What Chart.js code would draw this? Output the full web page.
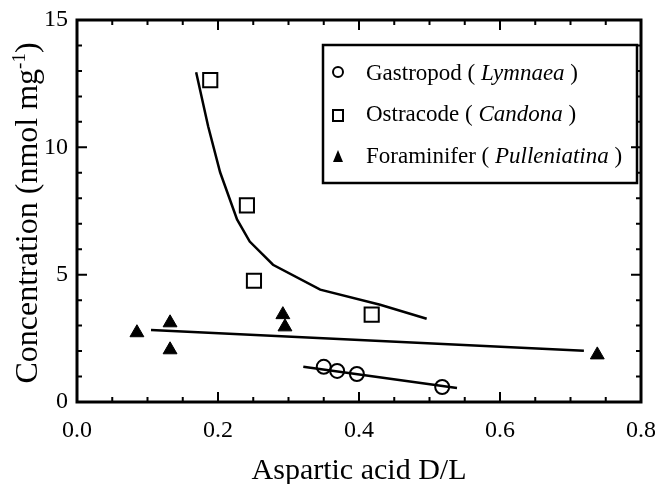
<!DOCTYPE html>
<html>
<head>
<meta charset="utf-8">
<script src="https://cdn.jsdelivr.net/npm/chart.js@4.4.1/dist/chart.umd.min.js"></script>
<style>
  html, body { margin: 0; padding: 0; background: #fff; }
  #wrap { width: 655px; height: 484px; }
</style>
</head>
<body>
<div id="wrap"><canvas id="chart" width="655" height="484"></canvas></div>
<script>
// measured points
const gastropodX = [0.350, 0.369, 0.397, 0.518];
const gastropodY = [1.38, 1.22, 1.10, 0.59];
const ostracodeX = [0.189, 0.241, 0.251, 0.418];
const ostracodeY = [12.64, 7.72, 4.76, 3.43];
const foramX = [0.085, 0.132, 0.132, 0.292, 0.295, 0.738];
const foramY = [2.72, 3.11, 2.05, 3.43, 2.95, 1.85];

// fitted curves
const gastropodFitX = [0.321, 0.539];
const gastropodFitY = [1.38, 0.55];
const ostracodeFitX = [0.169, 0.186, 0.203, 0.227, 0.245, 0.278, 0.345, 0.430, 0.496];
const ostracodeFitY = [12.95, 10.83, 9.02, 7.17, 6.30, 5.39, 4.41, 3.82, 3.27];
const foramFitX = [0.105, 0.719];
const foramFitY = [2.83, 2.01];

const xTicks = [0.0, 0.2, 0.4, 0.6, 0.8];
const yTicks = [0, 5, 10, 15];

const legendItems = [
    { marker: 'circle', parts: [['Gastropod ( ', false], ['Lymnaea', true], [' )', false]] },
    { marker: 'rect', parts: [['Ostracode ( ', false], ['Candona', true], [' )', false]] },
    { marker: 'triangle', parts: [['Foraminifer ( ', false], ['Pulleniatina', true], [' )', false]] },
];

const serif = '"Liberation Serif", "DejaVu Serif", serif';

function toPoints(xs, ys) {
    return xs.map((x, i) => ({ x, y: ys[i] }));
}

const framePlugin = {
    id: 'frame',
    afterDraw(chart) {
        const { ctx, chartArea: a, scales } = chart;
        const xs = scales.x;
        const ys = scales.y;
        ctx.save();
        ctx.strokeStyle = '#000';
        ctx.fillStyle = '#000';
        ctx.lineWidth = 3;
        ctx.strokeRect(a.left, a.top, a.right - a.left, a.bottom - a.top);

        // inward ticks on all four sides
        ctx.lineWidth = 2;
        ctx.beginPath();
        for (let i = 0; i <= 16; i++) {
            const px = xs.getPixelForValue(i * 0.05);
            const len = i % 4 === 0 ? 10 : 5;
            ctx.moveTo(px, a.bottom); ctx.lineTo(px, a.bottom - len);
            ctx.moveTo(px, a.top); ctx.lineTo(px, a.top + len);
        }
        for (let v = 0; v <= 15; v++) {
            const py = ys.getPixelForValue(v);
            const len = v % 5 === 0 ? 10 : 5;
            ctx.moveTo(a.left, py); ctx.lineTo(a.left + len, py);
            ctx.moveTo(a.right, py); ctx.lineTo(a.right - len, py);
        }
        ctx.stroke();

        // axis titles
        ctx.font = '30px ' + serif;
        ctx.textAlign = 'center';
        ctx.textBaseline = 'alphabetic';
        ctx.fillText('Aspartic acid D/L', 359, 479);

        ctx.save();
        ctx.translate(37, 213);
        ctx.rotate(-Math.PI / 2);
        const main = 'Concentration (nmol mg';
        const sup = '-1';
        const close = ')';
        ctx.font = '32px ' + serif;
        const w1 = ctx.measureText(main).width;
        const w3 = ctx.measureText(close).width;
        ctx.font = '19px ' + serif;
        const w2 = ctx.measureText(sup).width;
        const x0 = -(w1 + w2 + w3) / 2;
        ctx.textAlign = 'left';
        ctx.font = '32px ' + serif;
        ctx.fillText(main, x0, 0);
        ctx.font = '19px ' + serif;
        ctx.fillText(sup, x0 + w1, -12);
        ctx.font = '32px ' + serif;
        ctx.fillText(close, x0 + w1 + w2, 0);
        ctx.restore();

        // legend box
        ctx.lineWidth = 2.5;
        ctx.strokeRect(323, 45, 314, 138);
        const rowY = [74, 115, 157];
        ctx.textAlign = 'left';
        ctx.textBaseline = 'middle';
        legendItems.forEach((item, i) => {
            const y = rowY[i];
            const mx = 338;
            ctx.lineWidth = 2;
            ctx.beginPath();
            if (item.marker === 'circle') {
                ctx.arc(mx, y - 2, 5, 0, Math.PI * 2);
                ctx.stroke();
            } else if (item.marker === 'rect') {
                ctx.strokeRect(mx - 5, y - 5, 10, 11);
            } else {
                ctx.moveTo(mx, y - 7); ctx.lineTo(mx + 5, y + 5); ctx.lineTo(mx - 5, y + 5);
                ctx.closePath();
                ctx.fill();
            }
            let tx = 366;
            item.parts.forEach(([txt, it]) => {
                ctx.font = (it ? 'italic ' : '') + '23px ' + serif;
                ctx.fillText(txt, tx, y);
                tx += ctx.measureText(txt).width;
            });
        });
        ctx.restore();
    },
};

new Chart(document.getElementById('chart'), {
    type: 'scatter',
    data: {
        datasets: [
            {
                label: 'Gastropod fit', type: 'line', data: toPoints(gastropodFitX, gastropodFitY),
                borderColor: '#000', borderWidth: 2.5, pointRadius: 0, tension: 0, fill: false,
            },
            {
                label: 'Ostracode fit', type: 'line', data: toPoints(ostracodeFitX, ostracodeFitY),
                borderColor: '#000', borderWidth: 2.5, pointRadius: 0, tension: 0, fill: false,
            },
            {
                label: 'Foraminifer fit', type: 'line', data: toPoints(foramFitX, foramFitY),
                borderColor: '#000', borderWidth: 2.5, pointRadius: 0, tension: 0, fill: false,
            },
            {
                label: 'Gastropod', data: toPoints(gastropodX, gastropodY), showLine: false,
                pointStyle: 'circle', pointRadius: 7, pointBorderWidth: 2, borderColor: '#000',
                pointBorderColor: '#000', backgroundColor: 'rgba(0,0,0,0)', pointBackgroundColor: 'rgba(0,0,0,0)',
            },
            {
                label: 'Ostracode', data: toPoints(ostracodeX, ostracodeY), showLine: false,
                pointStyle: 'rect', pointRadius: 10, pointBorderWidth: 2, borderColor: '#000',
                pointBorderColor: '#000', backgroundColor: '#fff', pointBackgroundColor: '#fff',
            },
            {
                label: 'Foraminifer', data: toPoints(foramX, foramY), showLine: false,
                pointStyle: 'triangle', pointRadius: 8, pointBorderWidth: 1, borderColor: '#000',
                pointBorderColor: '#000', backgroundColor: '#000', pointBackgroundColor: '#000',
            },
        ],
    },
    options: {
        responsive: false,
        animation: false,
        layout: { autoPadding: false, padding: { left: 0, right: 14, top: 20, bottom: 0 } },
        plugins: { legend: { display: false }, tooltip: { enabled: false } },
        scales: {
            x: {
                type: 'linear', min: 0, max: 0.8,
                afterBuildTicks: (s) => { s.ticks = xTicks.map((v) => ({ value: v })); },
                afterFit: (s) => { s.height = 82; s.paddingLeft = 0; s.paddingRight = 0; },
                grid: { display: false, drawTicks: false },
                border: { display: false },
                ticks: {
                    color: '#000', padding: 14, maxRotation: 0,
                    font: { family: serif, size: 24 },
                    callback: (v) => Number(v).toFixed(1),
                },
            },
            y: {
                type: 'linear', min: 0, max: 15,
                afterBuildTicks: (s) => { s.ticks = yTicks.map((v) => ({ value: v })); },
                afterFit: (s) => { s.width = 77; s.paddingTop = 0; s.paddingBottom = 0; },
                grid: { display: false, drawTicks: false },
                border: { display: false },
                ticks: {
                    color: '#000', padding: 9,
                    font: { family: serif, size: 24 },
                    callback: (v) => String(v),
                },
            },
        },
    },
    plugins: [framePlugin],
});
</script>
</body>
</html>
